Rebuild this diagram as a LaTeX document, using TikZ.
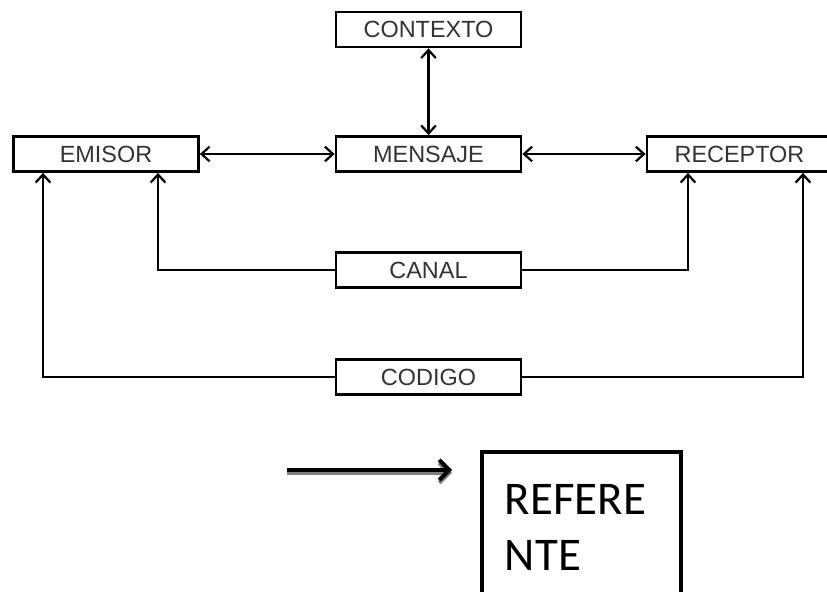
\documentclass[tikz,border=0pt]{standalone}
\usepackage{fontspec}
\newfontfamily\arialfont{Liberation Sans}
\newfontfamily\calibrifont{Carlito}
\usetikzlibrary{arrows.meta}
\usetikzlibrary{shapes,positioning}
\tikzset{>={Straight Barb[length=0.24cm,width=0.44cm]}}
\colorlet{penColor}{black}
\colorlet{textColor}{black!80}
\tikzset{
  caja/.style={draw=penColor, line width=2.4pt, minimum width=5.55cm, minimum height=1.05cm,
    inner sep=0pt, text=textColor, font=\arialfont\fontsize{20}{24}\selectfont},
  flecha/.style={penColor, line width=1.9pt},
  cajaref/.style={draw=penColor, line width=4pt, minimum width=5.97cm, minimum height=4.53cm,
    inner xsep=0.69cm, inner ysep=0pt, text width=4.59cm, align=left,
    font=\calibrifont\fontsize{40}{48.5}\selectfont}
}

\begin{document}
\begin{tikzpicture}[x=0.03cm,y=-0.03cm]
\useasboundingbox (0,0) rectangle (827,592);
% cajas de arriba
\node [caja] (contexto) at (428.5,29.5) {CONTEXTO};
\node [caja] (mensaje) at (428.5,154) {MENSAJE};
\node [caja] (emisor) at (106,154) {EMISOR};
\node [caja] (receptor) at (739.5,154) {RECEPTOR};
\node [caja] (canal) at (428.5,270) {CANAL};
\node [caja] (codigo) at (428.5,377) {CODIGO};
% flechas
\draw [<->,flecha] (contexto) -- (mensaje);
\draw [<->,flecha] (emisor) -- (mensaje);
\draw [<->,flecha] (mensaje) -- (receptor);
\draw [->,flecha] (canal.west) -| ([xshift=1.56cm]emisor.south);
\draw [->,flecha] (canal.east) -| ([xshift=-1.545cm]receptor.south);
\draw [->,flecha] (codigo.west) -| ([xshift=-1.89cm]emisor.south);
\draw [->,flecha] (codigo.east) -| ([xshift=1.905cm]receptor.south);
% referente
\coordinate (flechaini) at (287,470);
\coordinate (flechafin) at (452,470);
\draw [->,gray, line width=3.4pt, >={Straight Barb[length=0.3cm,width=0.6cm]}] ([yshift=-2.5pt]flechaini) -- ([yshift=-2.5pt]flechafin);
\draw [->,penColor, line width=3.4pt, >={Straight Barb[length=0.3cm,width=0.6cm]}] (flechaini) -- (flechafin);
\node [cajaref] (referente) at (581.5,527.5) {REFERE\\NTE};
\end{tikzpicture}
\end{document}
